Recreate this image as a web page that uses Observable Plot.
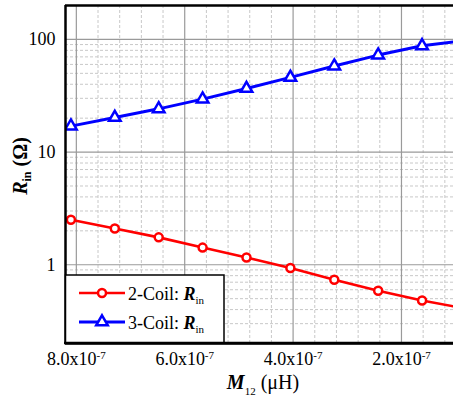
<!DOCTYPE html>
<html><head><meta charset="utf-8">
<script src="https://cdn.jsdelivr.net/npm/d3@7"></script>
<script src="https://cdn.jsdelivr.net/npm/@observablehq/plot@0.6"></script>
<style>body{margin:0;background:#fff;}</style>
</head><body><div id="chart"></div>
<script>
// Mutual inductance M12 (x), input resistance (y)
const M12 = [8.1e-7, 7.29e-7, 6.48e-7, 5.67e-7, 4.86e-7, 4.05e-7, 3.24e-7, 2.43e-7, 1.62e-7, 0.81e-7];
const rin2coil = [2.51, 2.10, 1.75, 1.42, 1.16, 0.935, 0.736, 0.588, 0.482, 0.407];
const rin3coil = [17.0, 20.3, 24.2, 29.5, 36.7, 46.0, 58.0, 72.6, 87.8, 98.0];
const seriesNames = ["2-Coil", "3-Coil"];
const seriesColors = ["#ff0000", "#0000ff"];
const xTicks = [8e-7, 6e-7, 4e-7, 2e-7];
const xMinor = [7.6e-7, 7.2e-7, 6.8e-7, 6.4e-7, 5.6e-7, 5.2e-7, 4.8e-7, 4.4e-7, 3.6e-7, 3.2e-7, 2.8e-7, 2.4e-7, 1.6e-7, 1.2e-7];
const yTicks = [1, 10, 100];
const yMinor = [0.2, 0.3, 0.4, 0.5, 0.6, 0.7, 0.8, 0.9, 2, 3, 4, 5, 6, 7, 8, 9, 20, 30, 40, 50, 60, 70, 80, 90, 200];
const xDomain = [8.2e-7, 1.04e-7];
const yDomain = [0.2, 200];

const d2 = M12.map((m, i) => ({m, r: rin2coil[i]}));
const d3c = M12.map((m, i) => ({m, r: rin3coil[i]}));

const FONT = "'Liberation Serif', 'Times New Roman', Tinos, serif";

const chart = Plot.plot({
  width: 453, height: 403,
  marginLeft: 65, marginTop: 5, marginRight: 0, marginBottom: 60,
  style: {fontFamily: FONT, fontSize: "18px", background: "#fff"},
  x: {domain: xDomain, ticks: xTicks, tickSize: 0, tickPadding: 9, label: null,
      tickFormat: d => (d / 1e-7).toFixed(1) + "x10|-7"},
  y: {type: "log", domain: yDomain, ticks: yTicks, tickSize: 0, tickPadding: 10, label: null,
      tickFormat: d => String(d)},
  marks: [
    Plot.ruleY(yMinor, {stroke: "#c8c8c8", strokeDasharray: "3,2", strokeWidth: 1}),
    Plot.ruleX(xMinor, {stroke: "#c8c8c8", strokeDasharray: "3,2", strokeWidth: 1}),
    Plot.ruleY(yTicks, {stroke: "#9a9a9a", strokeWidth: 1.2}),
    Plot.ruleX(xTicks, {stroke: "#9a9a9a", strokeWidth: 1.2}),
    Plot.line(d2, {x: "m", y: "r", stroke: seriesColors[0], strokeWidth: 2.6, clip: true}),
    Plot.line(d3c, {x: "m", y: "r", stroke: seriesColors[1], strokeWidth: 3, clip: true}),
    Plot.dot(d2, {x: "m", y: "r", r: 4, stroke: seriesColors[0], strokeWidth: 2.5, fill: "#fff", clip: true}),
    Plot.dot(d3c, {x: "m", y: "r", r: 4.3, symbol: "triangle", stroke: seriesColors[1], strokeWidth: 2.5, fill: "#fff", clip: true}),
    Plot.ruleX([xDomain[0]], {stroke: "#000", strokeWidth: 2.5}),
    Plot.ruleY([yDomain[0]], {stroke: "#000", strokeWidth: 2.5}),
    Plot.ruleY([yDomain[1]], {stroke: "#000", strokeWidth: 2.5})
  ]
});

const svg = d3.select(chart);
// superscript exponents in x tick labels
svg.selectAll("text").each(function() {
  const t = this.textContent;
  if (t.includes("|")) {
    const [base, exp] = t.split("|");
    const el = d3.select(this);
    el.text(null);
    el.append("tspan").text(base);
    el.append("tspan").attr("dy", "-0.55em").attr("font-size", "11px").text(exp);
  }
});

// y axis title
const yt = svg.append("text")
  .attr("transform", "translate(27,166) rotate(-90)")
  .attr("text-anchor", "middle")
  .attr("font-size", "20px").attr("font-weight", "bold");
yt.append("tspan").attr("font-style", "italic").text("R");
yt.append("tspan").attr("font-size", "12px").attr("dy", "4").text("in");
yt.append("tspan").attr("dy", "-4").text(" (Ω)");

// x axis title
const xt = svg.append("text")
  .attr("x", 263).attr("y", 389)
  .attr("text-anchor", "middle")
  .attr("font-size", "20px");
xt.append("tspan").attr("font-style", "italic").attr("font-weight", "bold").text("M");
xt.append("tspan").attr("font-size", "11px").attr("dy", "6").text("12");
xt.append("tspan").attr("dy", "-6").text(" (μH)");

// legend
const lg = svg.append("g");
lg.append("rect").attr("x", 65.5).attr("y", 275).attr("width", 158.5).attr("height", 68)
  .attr("fill", "#fff").attr("stroke", "#000").attr("stroke-width", 1.5);
const rowsY = [293, 322];
seriesNames.forEach((name, i) => {
  const y = rowsY[i];
  lg.append("line").attr("x1", 79).attr("x2", 125).attr("y1", y).attr("y2", y)
    .attr("stroke", seriesColors[i]).attr("stroke-width", i ? 3 : 2.6);
  if (i === 0) {
    lg.append("circle").attr("cx", 102).attr("cy", y).attr("r", 4)
      .attr("fill", "#fff").attr("stroke", seriesColors[i]).attr("stroke-width", 2.5);
  } else {
    lg.append("path").attr("transform", `translate(102,${y})`)
      .attr("d", d3.symbol(d3.symbolTriangle, Math.PI * 4.3 * 4.3)())
      .attr("fill", "#fff").attr("stroke", seriesColors[i]).attr("stroke-width", 2.5);
  }
  const tx = lg.append("text").attr("x", 128).attr("y", y + 7)
    .attr("text-anchor", "start").attr("font-size", "18px");
  tx.append("tspan").text(name + ": ");
  tx.append("tspan").attr("font-style", "italic").attr("font-weight", "bold").text("R");
  tx.append("tspan").attr("font-size", "11px").attr("dy", "4").text("in");
});
// redraw bottom frame on top of legend
svg.append("line").attr("x1", 64).attr("x2", 453).attr("y1", 343).attr("y2", 343)
  .attr("stroke", "#000").attr("stroke-width", 2.5);

// force the serif font on every text element (inline, important)
chart.style.setProperty("font-family", FONT, "important");
svg.selectAll("text, tspan").each(function() {
  this.style.setProperty("font-family", FONT, "important");
});

document.getElementById("chart").appendChild(chart);
</script>
</body></html>
